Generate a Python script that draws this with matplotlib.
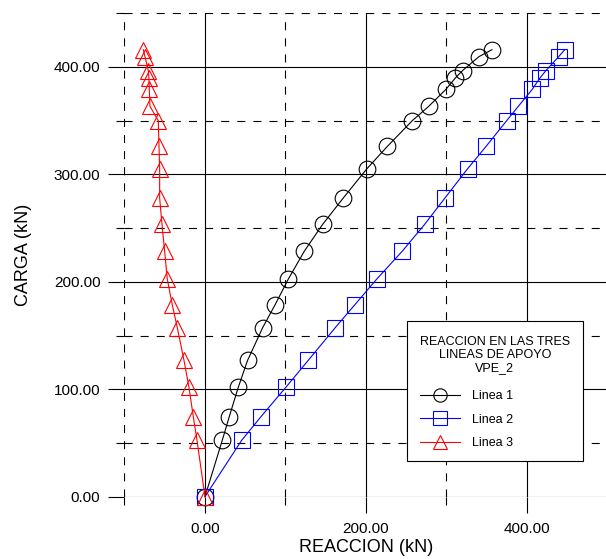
import matplotlib
matplotlib.use('Agg')
import matplotlib.pyplot as plt
from matplotlib.patches import Rectangle
from matplotlib.ticker import MultipleLocator, FuncFormatter

plt.rcParams['font.family'] = ['Liberation Sans', 'DejaVu Sans']
plt.rcParams['lines.scale_dashes'] = False

# datos
carga = [0, 52.5, 74.5, 101.9, 127.0, 157.4, 178.5, 202.5, 228.5, 253.5,
         278.0, 305.3, 326.0, 350.0, 363.3, 379.2, 389.7, 396.7, 409.6, 416.1]
linea1 = [0, 21.5, 30.2, 41.4, 53.0, 71.7, 87.0, 103.5, 123.4, 146.2,
          171.8, 201.2, 226.5, 257.5, 277.9, 299.4, 311.0, 320.1, 340.4, 356.5]
linea2 = [0, 45.6, 69.6, 100.6, 128.4, 161.9, 186.0, 213.3, 245.1, 272.9,
          298.1, 326.3, 349.1, 374.8, 389.2, 406.6, 416.1, 423.6, 439.4, 447.0]
linea3 = [0, -9.9, -14.5, -19.9, -26.1, -34.4, -40.6, -46.8, -50.1, -53.4,
          -56.3, -56.3, -57.1, -58.0, -68.3, -69.2, -69.6, -70.4, -74.5, -76.6]
nombres = ['Linea 1', 'Linea 2', 'Linea 3']
colores = ['black', 'blue', 'red']
marcas = ['o', 's', '^']

fig = plt.figure(figsize=(6.06, 5.59), dpi=100)
ax = fig.add_axes([0.2054, 0.1115, 0.797, 0.8648])

for xs, nom, c, m in zip([linea1, linea2, linea3], nombres, colores, marcas):
    ax.plot(xs, carga, color=c, lw=0.8, marker=m, ms=12, mfc='none',
            mec=c, mew=0.8, label=nom, clip_on=False, zorder=3)

ax.set_xlim(-100, 500)
ax.set_ylim(0, 450)
ax.xaxis.set_major_locator(MultipleLocator(200))
ax.xaxis.set_minor_locator(MultipleLocator(100))
ax.yaxis.set_major_locator(MultipleLocator(100))
ax.yaxis.set_minor_locator(MultipleLocator(50))
fmt = FuncFormatter(lambda v, p: f'{v:.2f}')
ax.xaxis.set_major_formatter(fmt)
ax.yaxis.set_major_formatter(fmt)

for s in ax.spines.values():
    s.set_visible(False)

ax.grid(True, which='major', color='black', lw=0.8, ls='-')
ax.grid(True, which='minor', color='black', lw=0.8, ls=(0, (5.8, 5.8)))
ax.set_axisbelow(True)
ax.tick_params(which='major', direction='out', length=11.5, width=0.8,
               labelsize=11, pad=5.8)
ax.tick_params(which='minor', direction='out', length=5.8, width=0.8)
ax.tick_params(axis='x', which='major', pad=7)

ax.set_xlabel('REACCION (kN)', fontsize=13)
ax.set_ylabel('CARGA (kN)', fontsize=13)
ax.xaxis.set_label_coords(0.5, -0.106)
ax.yaxis.set_label_coords(-0.209, 0.5)
ax.xaxis.label.set_va('center')
ax.yaxis.label.set_va('center')

# cuadro de la leyenda
ax.add_patch(Rectangle((0.584, 0.0739), 0.366, 0.2896, transform=ax.transAxes,
                       facecolor='white', edgecolor='black', lw=0.8, zorder=4))
ax.text(0.767, 0.2925, 'REACCION EN LAS TRES\nLINEAS DE APOYO\nVPE_2',
        transform=ax.transAxes, ha='center', va='center', fontsize=9,
        multialignment='center', linespacing=1.1, zorder=5)
leg = ax.legend(loc='center left', bbox_to_anchor=(0.6118, 0.1590),
                fontsize=9, frameon=False, markerscale=0.8, handlelength=3.2,
                handletextpad=1.0, labelspacing=0.92, borderpad=0,
                borderaxespad=0)
leg.set_zorder(6)

plt.savefig('out.png', dpi=100)
plt.close()
